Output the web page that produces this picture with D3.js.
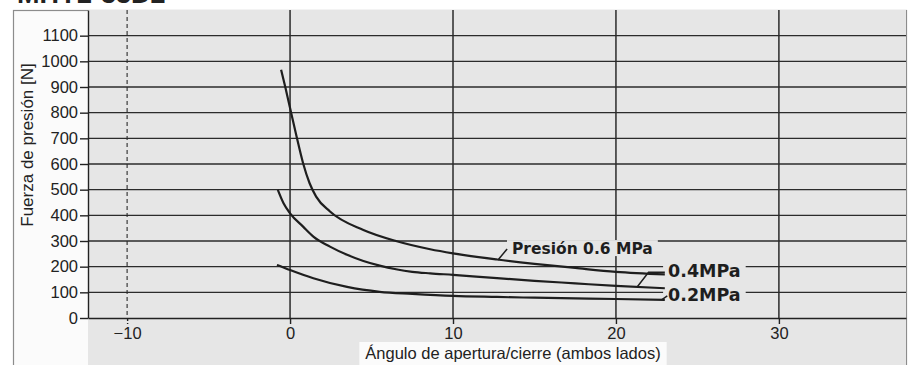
<!DOCTYPE html>
<html>
<head>
<meta charset="utf-8">
<script src="https://cdn.jsdelivr.net/npm/d3@7"></script>
<style>
  body { margin: 0; background: #fff; }
  svg { display: block; font-family: "Liberation Sans", Arial, sans-serif; }
</style>
</head>
<body>
<div id="chart"></div>
<script>
var svgWidth = 911;
var svgHeight = 365;

var margin = { top: 10, right: 5, bottom: 47, left: 88 };
var width = svgWidth - margin.left - margin.right;
var height = svgHeight - margin.top - margin.bottom;

// values: angle (deg) / force (N)
var angle06 = [-0.55, -0.3, 0, 0.4, 0.8, 1.2, 1.6, 2.45, 4.5, 6.5, 8.6, 10, 12.7, 15, 17.5, 20, 23];
var force06 = [967, 902, 818, 707, 603, 525, 473, 415, 343, 300, 268, 252, 228, 211, 195, 180, 170];

var angle04 = [-0.75, -0.4, 0, 0.8, 1.43, 2.45, 3.5, 4.5, 5.5, 6.5, 7.5, 8.6, 10, 12.7, 15, 17.5, 20, 23];
var force04 = [499, 447, 408, 356, 317, 278, 246, 222, 204, 190, 180, 174, 168, 155, 145, 135, 125, 116];

var angle02 = [-0.8, 0, 1.43, 3.5, 5.5, 7.5, 10, 12.7, 15, 20, 23];
var force02 = [207, 187, 155, 121, 102, 94, 86, 82, 79, 74, 71];

var xTicks = [-10, 0, 10, 20, 30];
var yTicks = [0, 100, 200, 300, 400, 500, 600, 700, 800, 900, 1000, 1100];

var seriesNames = ["Presión 0.6 MPa", "0.4MPa", "0.2MPa"];

var svg = d3.select("#chart")
    .append("svg")
    .attr("width", svgWidth)
    .attr("height", svgHeight);

// title, mostly cut off at the top edge
svg.append("text")
    .attr("x", 17)
    .attr("y", 3)
    .attr("font-weight", "bold")
    .attr("font-size", 27)
    .attr("fill", "#222")
    .text("MHY2-33D2");

// outer frame
svg.append("rect")
    .attr("x", 13.5)
    .attr("y", 10.5)
    .attr("width", 893)
    .attr("height", 380)
    .attr("fill", "#fbfbfb")
    .attr("stroke", "#8c8c8c")
    .attr("stroke-width", 1.2);

var chartGroup = svg.append("g")
    .attr("transform", `translate(${margin.left}, ${margin.top})`);

var xLinearScale = d3.scaleLinear()
    .domain([-12.4, 37.8])
    .range([0, width]);

var yLinearScale = d3.scaleLinear()
    .domain([0, 1200])
    .range([height, 0]);

// grey plot area, runs down to the bottom of the picture
chartGroup.append("rect")
    .attr("x", 0)
    .attr("y", 0)
    .attr("width", width)
    .attr("height", svgHeight - margin.top)
    .attr("fill", "#e6e6e6");

var gridGroup = chartGroup.append("g");
var boxGroup = chartGroup.append("g");
var axisGroup = chartGroup.append("g");
var curveGroup = chartGroup.append("g");
var labelGroup = chartGroup.append("g");

// horizontal grid
gridGroup.selectAll(".hgrid")
    .data(yTicks.filter(d => d > 0))
    .enter()
    .append("line")
    .attr("x1", 0)
    .attr("x2", width)
    .attr("y1", d => yLinearScale(d))
    .attr("y2", d => yLinearScale(d))
    .attr("stroke", "#2b2b2b")
    .attr("stroke-width", 1.4);

// vertical grid, -10 is dashed
gridGroup.selectAll(".vgrid")
    .data(xTicks)
    .enter()
    .append("line")
    .attr("x1", d => xLinearScale(d))
    .attr("x2", d => xLinearScale(d))
    .attr("y1", 0)
    .attr("y2", height)
    .attr("stroke", "#2b2b2b")
    .attr("stroke-width", d => d === -10 ? 1.1 : 1.5)
    .attr("stroke-dasharray", d => d === -10 ? "4,3" : null);

// axes
var leftAxis = d3.axisLeft(yLinearScale)
    .tickValues(yTicks)
    .tickSize(8)
    .tickSizeOuter(0)
    .tickPadding(2)
    .tickFormat(d3.format("d"));

var bottomAxis = d3.axisBottom(xLinearScale)
    .tickValues(xTicks)
    .tickSize(6)
    .tickSizeOuter(0)
    .tickPadding(3)
    .tickFormat(d => d < 0 ? "\u2212" + Math.abs(d) : d);

var yAxis = axisGroup.append("g")
    .call(leftAxis);

var xAxis = axisGroup.append("g")
    .attr("transform", `translate(0, ${height})`)
    .call(bottomAxis);

[yAxis, xAxis].forEach(ax => {
    ax.attr("font-family", "'Liberation Sans', Arial, sans-serif")
        .attr("font-size", 16.5)
        .style("color", "#222");
    ax.selectAll("line").attr("stroke-width", 1.4);
    ax.select(".domain").attr("stroke-width", 1.4);
});
xAxis.selectAll(".tick line").attr("stroke-dasharray", d => d === -10 ? "3,2" : null);

// axis titles
svg.append("text")
    .attr("transform", "translate(33, 145) rotate(-90)")
    .attr("text-anchor", "middle")
    .attr("font-size", 17)
    .attr("fill", "#222")
    .text("Fuerza de presión [N]");

var xTitle = svg.append("text")
    .attr("x", 513)
    .attr("y", 359)
    .attr("text-anchor", "middle")
    .attr("font-size", 16.5)
    .attr("fill", "#222")
    .text("Ángulo de apertura/cierre (ambos lados)");

var tb = xTitle.node().getBBox();
svg.insert("rect", () => xTitle.node())
    .attr("x", tb.x - 6)
    .attr("y", tb.y - 2)
    .attr("width", tb.width + 12)
    .attr("height", 40)
    .attr("fill", "#fbfbfb");

// curves
var series = [
    { angle: angle06, force: force06 },
    { angle: angle04, force: force04 },
    { angle: angle02, force: force02 }
];

var line = d3.line()
    .x(d => xLinearScale(d[0]))
    .y(d => yLinearScale(d[1]))
    .curve(d3.curveMonotoneX);

curveGroup.selectAll("path")
    .data(series)
    .enter()
    .append("path")
    .attr("d", s => line(s.angle.map((a, i) => [a, s.force[i]])))
    .attr("fill", "none")
    .attr("stroke", "#1e1e1e")
    .attr("stroke-width", 2.2);

// curve labels (anchor in data units) and leader lines
var labelAngle = [13.62, 23.2, 23.2];
var labelForce = [249, 160, 66];
var labelSize = [15.5, 17.5, 17.5];

var labels = labelGroup.selectAll("text")
    .data(seriesNames)
    .enter()
    .append("text")
    .attr("x", (d, i) => xLinearScale(labelAngle[i]))
    .attr("y", (d, i) => yLinearScale(labelForce[i]))
    .attr("font-family", "'DejaVu Sans', sans-serif")
    .attr("font-weight", "bold")
    .attr("font-size", (d, i) => labelSize[i])
    .attr("fill", "#1e1e1e")
    .text(d => d);

labels.each(function () {
    var b = this.getBBox();
    boxGroup.append("rect")
        .attr("x", b.x - 5)
        .attr("y", b.y)
        .attr("width", b.width + 10)
        .attr("height", b.height - 2)
        .attr("fill", "#e6e6e6");
});

var leaders = [
    [[12.76, 226], [13.32, 269]],
    [[21.3, 121], [22.0, 178], [23.0, 178]],
    [[22.8, 71], [23.15, 86]]
];

labelGroup.selectAll("path")
    .data(leaders)
    .enter()
    .append("path")
    .attr("d", d3.line().x(d => xLinearScale(d[0])).y(d => yLinearScale(d[1])))
    .attr("fill", "none")
    .attr("stroke", "#1e1e1e")
    .attr("stroke-width", 1.5);
</script>
</body>
</html>
